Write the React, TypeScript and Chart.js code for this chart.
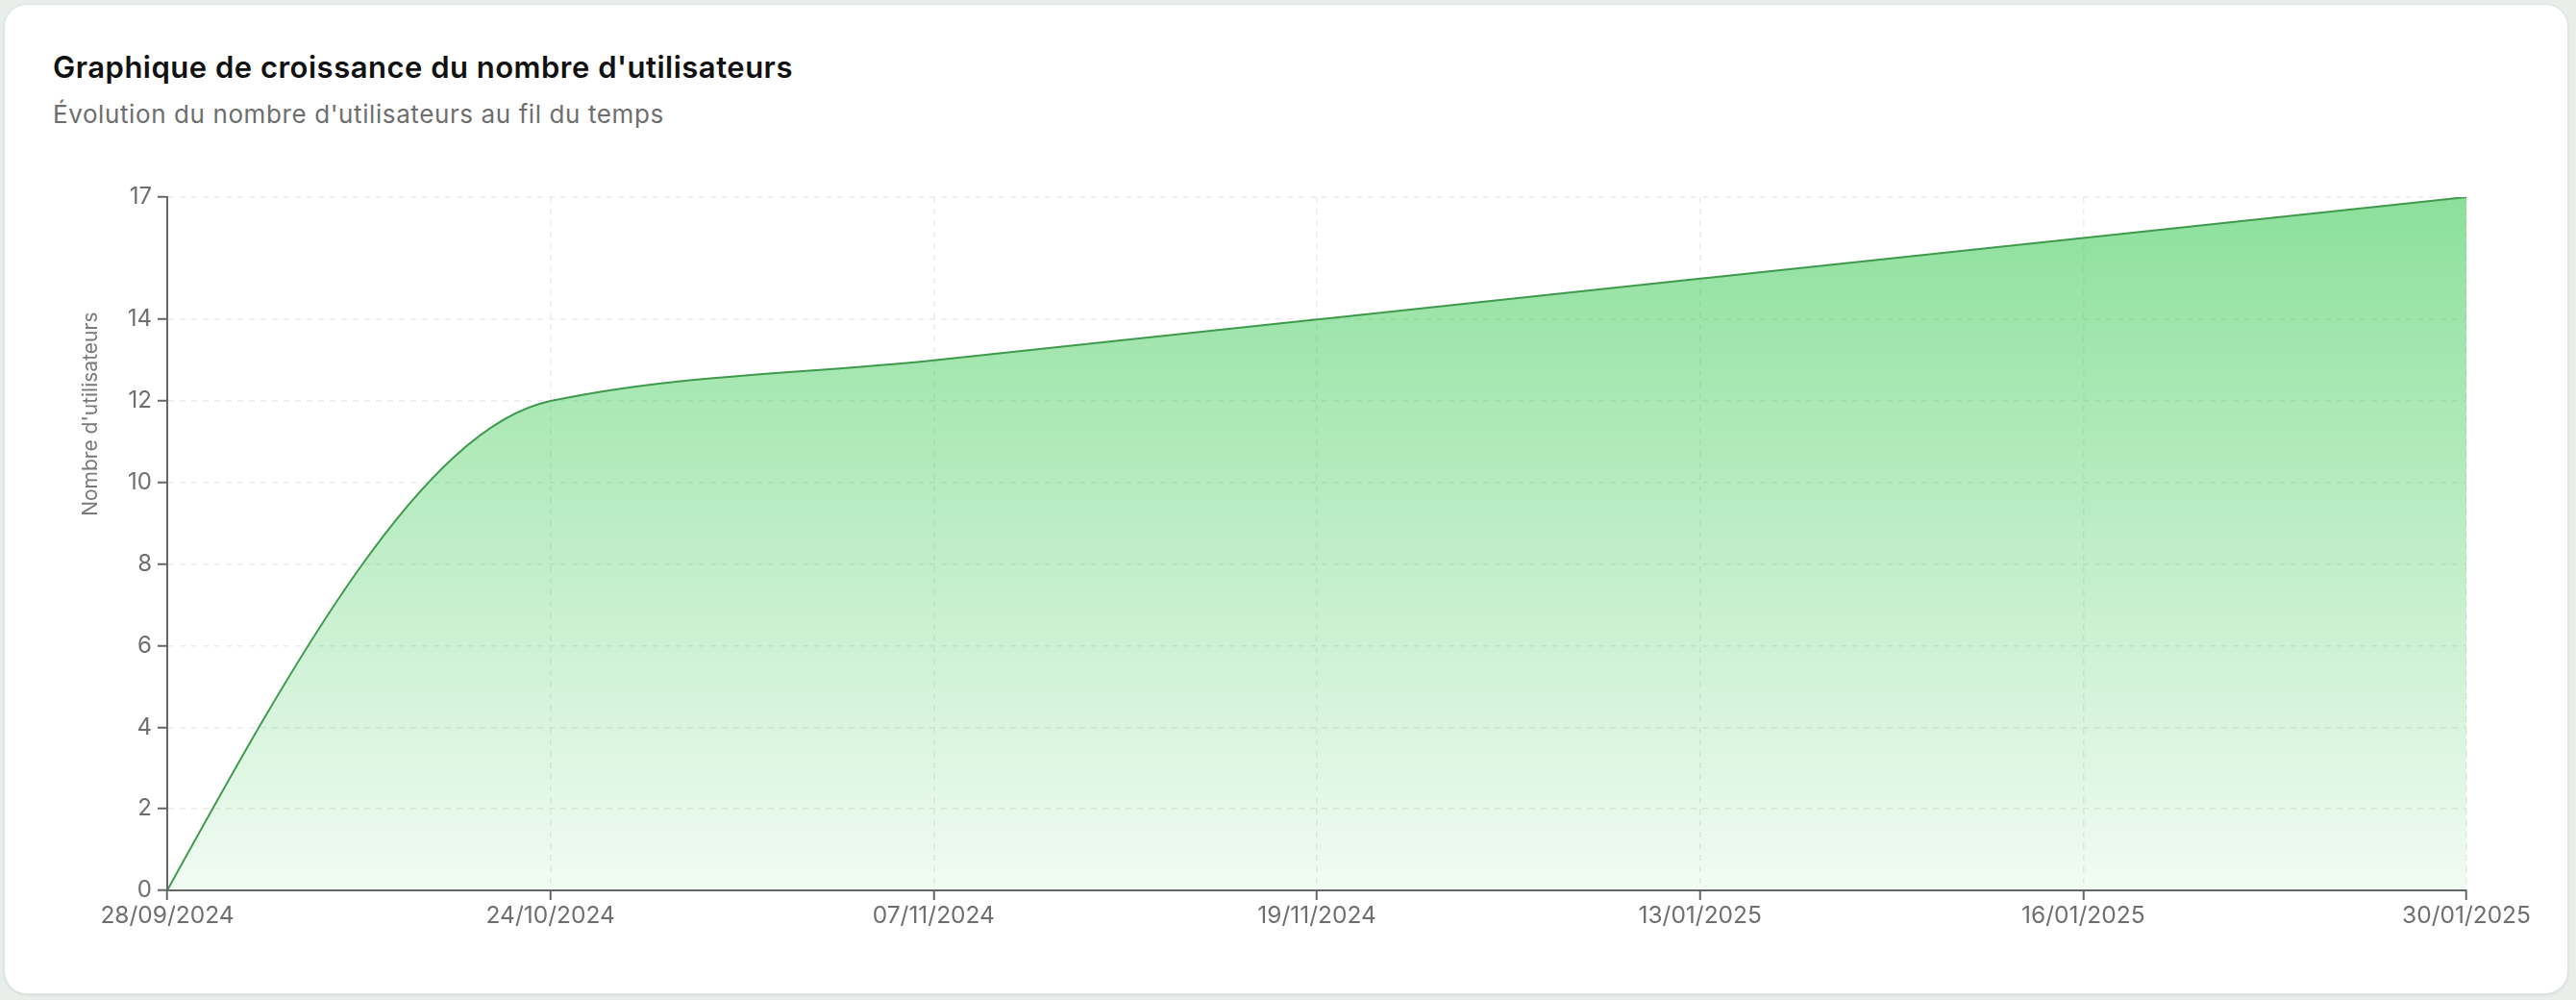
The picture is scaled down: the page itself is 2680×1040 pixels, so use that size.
import React, { useEffect, useRef } from 'react';
import { Chart, registerables } from 'chart.js';

Chart.register(...registerables);

const titleText = "Graphique de croissance du nombre d'utilisateurs";
const subtitleText = "Évolution du nombre d'utilisateurs au fil du temps";
const yAxisTitle = "Nombre d'utilisateurs";

const dateLabels = ['28/09/2024', '24/10/2024', '07/11/2024', '19/11/2024', '13/01/2025', '16/01/2025', '30/01/2025'];
const userCounts = [0, 12, 13, 14, 15, 16, 17];
const yTickValues = [0, 2, 4, 6, 8, 10, 12, 14, 17];

const FONT = "Inter, 'Noto Sans', sans-serif";

// Monotone-X cubic interpolation (same tangent rule as d3.curveMonotoneX),
// applied to the points Chart.js placed through its scales.
const monotoneXPlugin = {
  id: 'monotoneXPlugin',
  beforeDatasetsDraw(chart: any) {
    chart.data.datasets.forEach((_: any, di: number) => {
      const meta = chart.getDatasetMeta(di);
      const line = meta.dataset;
      const pts = meta.data;
      if (!line || !pts || pts.length < 2) return;
      line.updateControlPoints(chart.chartArea, 'x');
      const n = pts.length;
      const hs: number[] = [];
      const ss: number[] = [];
      for (let k = 0; k < n - 1; k++) {
        const h = pts[k + 1].x - pts[k].x;
        hs.push(h);
        ss.push(h ? (pts[k + 1].y - pts[k].y) / h : 0);
      }
      const sgn = (v: number) => (v < 0 ? -1 : 1);
      const t: number[] = new Array(n).fill(0);
      for (let k = 1; k < n - 1; k++) {
        const h0 = hs[k - 1];
        const h1 = hs[k];
        const s0 = ss[k - 1];
        const s1 = ss[k];
        const p = (s0 * h1 + s1 * h0) / (h0 + h1);
        t[k] = (sgn(s0) + sgn(s1)) * Math.min(Math.abs(s0), Math.abs(s1), 0.5 * Math.abs(p)) || 0;
      }
      if (n === 2) {
        t[0] = ss[0];
        t[1] = ss[0];
      } else {
        t[0] = (3 * ss[0] - t[1]) / 2;
        t[n - 1] = (3 * ss[n - 2] - t[n - 2]) / 2;
      }
      for (let k = 0; k < n; k++) {
        const pt = pts[k];
        if (k > 0) {
          const h = hs[k - 1];
          pt.cp1x = pt.x - h / 3;
          pt.cp1y = pt.y - (t[k] * h) / 3;
        } else {
          pt.cp1x = pt.x;
          pt.cp1y = pt.y;
        }
        if (k < n - 1) {
          const h = hs[k];
          pt.cp2x = pt.x + h / 3;
          pt.cp2y = pt.y + (t[k] * h) / 3;
        } else {
          pt.cp2x = pt.x;
          pt.cp2y = pt.y;
        }
      }
      delete line._path;
    });
  },
};

export default function App() {
  const canvasRef = useRef<HTMLCanvasElement | null>(null);

  useEffect(() => {
    document.body.style.margin = '0';
    document.body.style.overflow = 'hidden';
    const canvas = canvasRef.current;
    if (!canvas) return;

    const yTitlePlugin = {
      id: 'yTitlePlugin',
      afterDraw(chart: any) {
        const { ctx, chartArea } = chart;
        const cy = chartArea.top + (chartArea.bottom - chartArea.top) * 0.313;
        ctx.save();
        ctx.translate(95, cy);
        ctx.rotate(-Math.PI / 2);
        ctx.font = `21px ${FONT}`;
        ctx.fillStyle = '#7a7a7a';
        ctx.textAlign = 'center';
        ctx.textBaseline = 'middle';
        ctx.fillText(yAxisTitle, 0, 0);
        ctx.restore();
      },
    };

    const chart = new Chart(canvas, {
      type: 'line',
      data: {
        labels: dateLabels,
        datasets: [
          {
            label: yAxisTitle,
            data: userCounts,
            borderColor: '#3f9a4d',
            borderWidth: 2,
            pointRadius: 0,
            pointHoverRadius: 0,
            cubicInterpolationMode: 'monotone',
            fill: 'origin',
            backgroundColor: (context: any) => {
              const { chart: c } = context;
              const area = c.chartArea;
              if (!area) return 'rgba(63,203,88,0.3)';
              const g = c.ctx.createLinearGradient(0, area.top, 0, area.bottom);
              g.addColorStop(0, 'rgba(63,203,88,0.6)');
              g.addColorStop(1, 'rgba(63,203,88,0.07)');
              return g;
            },
          },
        ],
      },
      options: {
        responsive: false,
        animation: false,
        devicePixelRatio: 1,
        layout: { padding: { left: 0, top: 205, right: 114, bottom: 54 } },
        plugins: {
          legend: { display: false },
          tooltip: { enabled: false },
          title: { display: false },
        },
        scales: {
          x: {
            type: 'category',
            offset: false,
            grid: {
              color: '#ececec',
              lineWidth: 1.5,
              tickColor: '#666666',
              tickLength: 10,
              tickWidth: 2,
            },
            border: { display: true, color: '#666666', width: 2, dash: [6, 6], z: 1 },
            ticks: {
              color: '#6e6e6e',
              font: { family: FONT, size: 24.5 },
              padding: 2,
              maxRotation: 0,
              autoSkip: false,
            },
            afterFit: (scale: any) => {
              scale.height = 60;
            },
          },
          y: {
            min: 0,
            max: 17,
            grid: {
              color: '#ececec',
              lineWidth: 1.5,
              tickColor: '#666666',
              tickLength: 10,
              tickWidth: 2,
            },
            border: { display: true, color: '#666666', width: 2, dash: [6, 6], z: 1 },
            ticks: {
              color: '#6e6e6e',
              font: { family: FONT, size: 24 },
              padding: 6,
            },
            afterBuildTicks: (scale: any) => {
              scale.ticks = yTickValues.map((v) => ({ value: v }));
            },
            afterFit: (scale: any) => {
              scale.width = 174;
            },
          },
        },
      },
      plugins: [monotoneXPlugin, yTitlePlugin],
    });

    return () => {
      chart.destroy();
    };
  }, []);

  return (
    <div style={{ position: 'relative', width: 2680, height: 1040, background: '#e9eeeb', overflow: 'hidden' }}>
      <div
        style={{
          position: 'absolute',
          left: 4,
          top: 4,
          width: 2668,
          height: 1030,
          boxSizing: 'border-box',
          background: '#ffffff',
          borderRadius: 24,
          border: '1px solid #dfe5e2',
          boxShadow: '0 1px 3px rgba(0,0,0,0.08)',
        }}
      />
      <div
        style={{
          position: 'absolute',
          left: 55,
          top: 54,
          fontFamily: FONT,
          fontSize: 31,
          fontWeight: 600,
          lineHeight: 1,
          color: '#111111',
          whiteSpace: 'nowrap',
          letterSpacing: 0.5,
        }}
      >
        {titleText}
      </div>
      <div
        style={{
          position: 'absolute',
          left: 55,
          top: 106,
          fontFamily: FONT,
          fontSize: 26,
          fontWeight: 400,
          lineHeight: 1,
          color: '#6e6e6e',
          whiteSpace: 'nowrap',
          letterSpacing: 0.6,
        }}
      >
        {subtitleText}
      </div>
      <canvas
        ref={canvasRef}
        width={2680}
        height={1040}
        style={{ position: 'absolute', left: 0, top: 0, width: 2680, height: 1040 }}
      />
    </div>
  );
}
